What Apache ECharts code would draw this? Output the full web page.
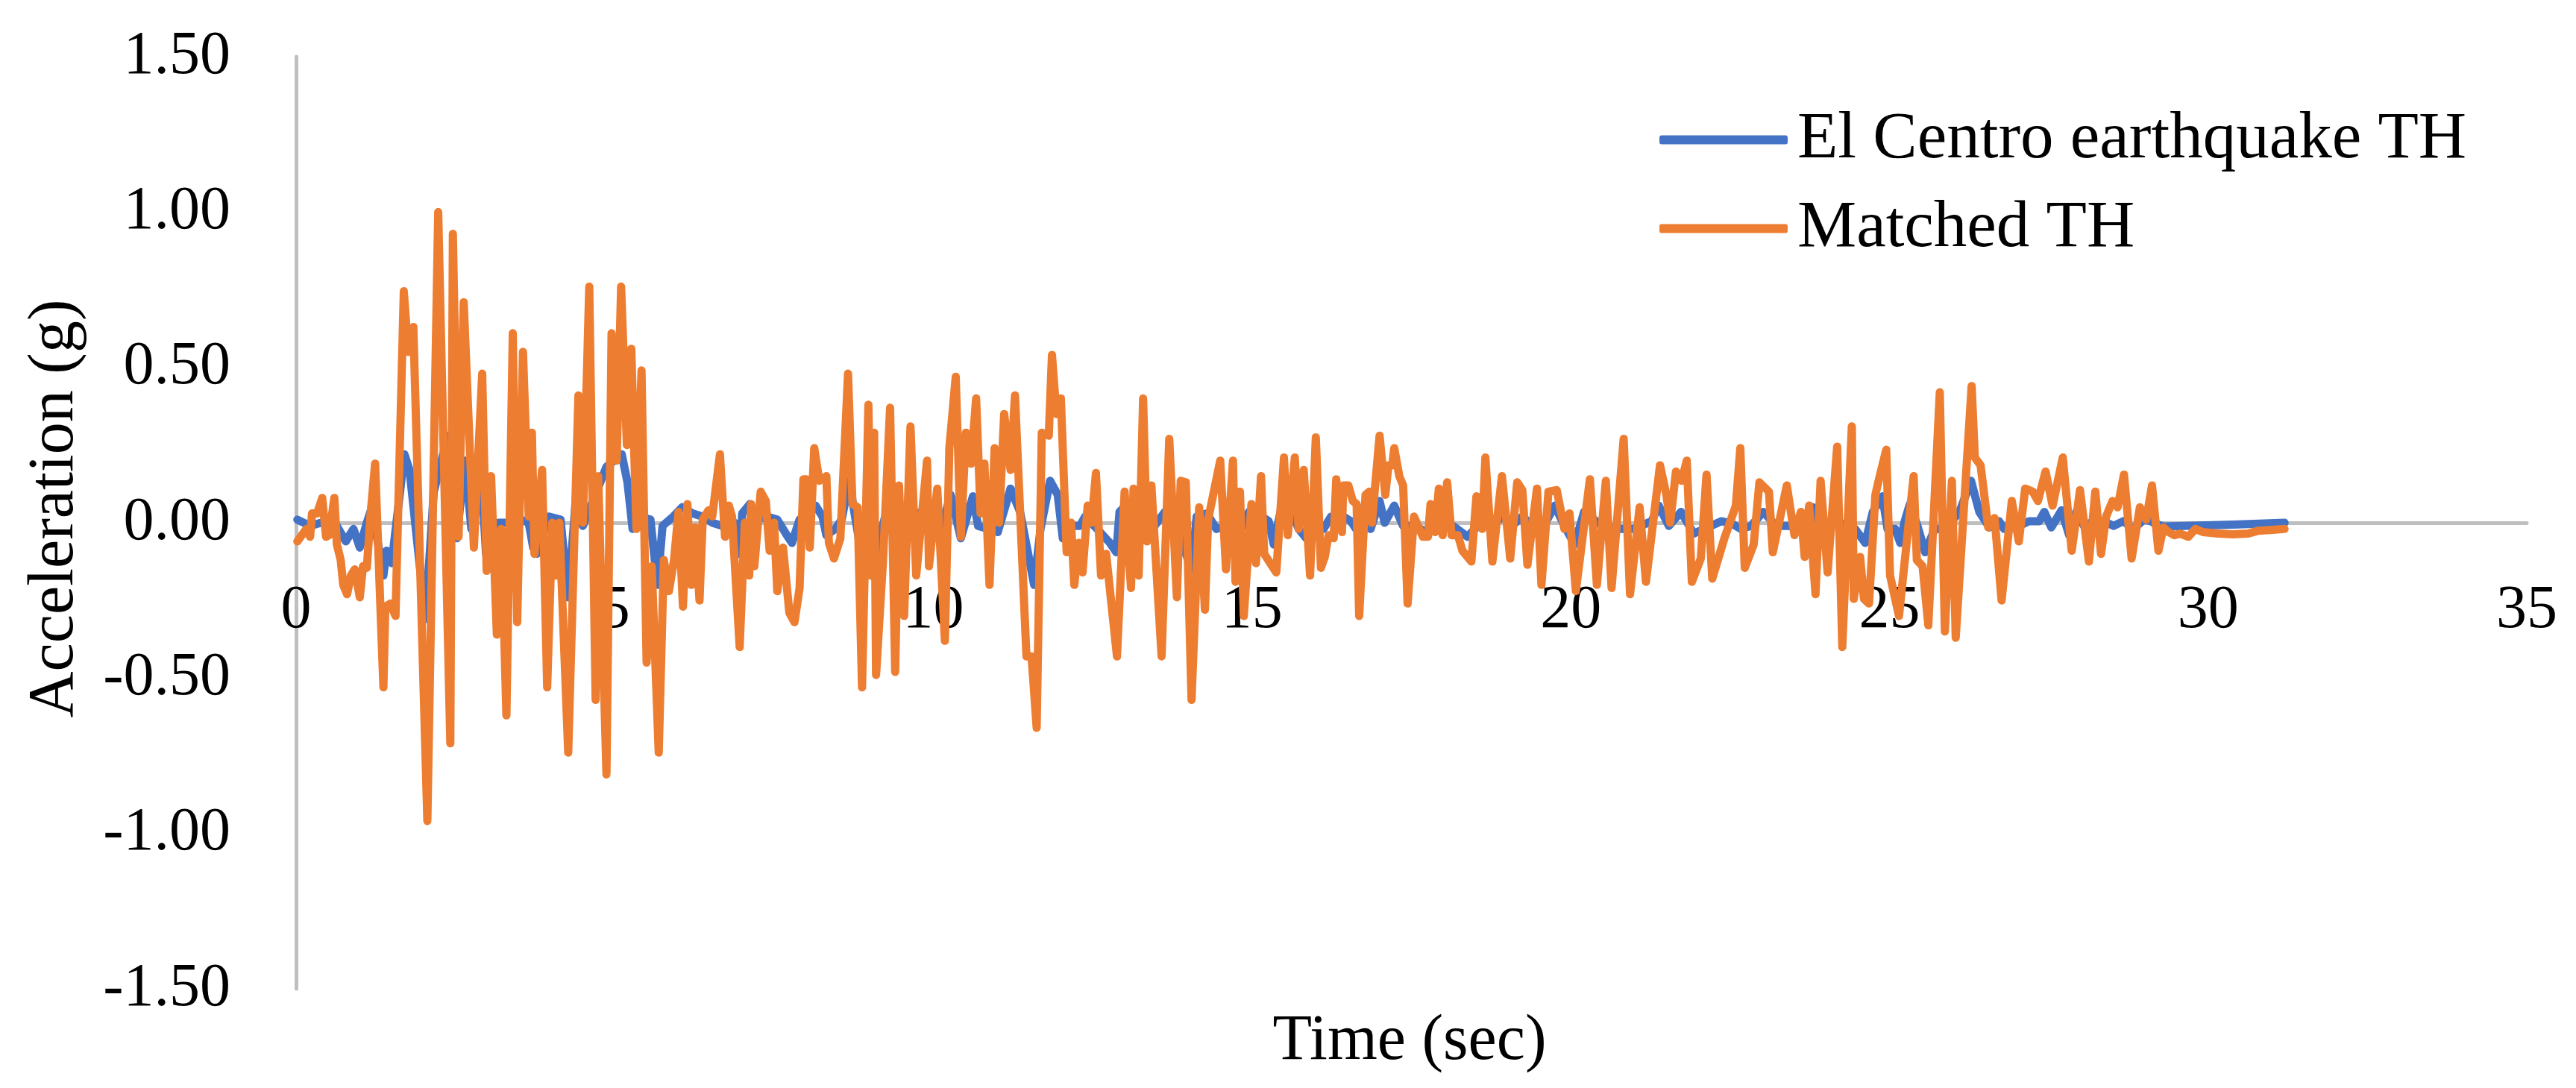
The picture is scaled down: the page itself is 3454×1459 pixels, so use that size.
<!DOCTYPE html>
<html>
<head>
<meta charset="utf-8">
<script src="https://cdn.jsdelivr.net/npm/echarts/dist/echarts.min.js"></script>
<style>
html,body{margin:0;padding:0;background:#ffffff;}
#chart{width:3454px;height:1459px;}
</style>
</head>
<body>
<div id="chart"></div>
<script>
// ---- Data (time in sec, acceleration in g) ----
const seriesNames = ['El Centro earthquake TH', 'Matched TH'];

const matchedT = [
0.02,0.16,0.22,0.25,0.33,0.41,0.47,0.52,0.60,0.64,
0.70,0.74,0.80,0.86,0.92,1.00,1.05,1.11,1.17,1.24,
1.37,1.40,1.48,1.56,1.69,1.76,1.84,2.06,2.23,2.42,
2.46,2.55,2.63,2.79,2.92,2.99,3.06,3.15,3.22,3.30,
3.40,3.47,3.56,3.65,3.70,3.74,3.86,3.94,4.02,4.07,
4.13,4.27,4.43,4.50,4.60,4.70,4.74,4.87,4.95,5.03,
5.10,5.19,5.26,5.34,5.42,5.50,5.58,5.69,5.77,5.85,
5.93,6.00,6.07,6.14,6.20,6.26,6.33,6.38,6.47,6.53,
6.65,6.73,6.79,6.84,6.96,7.04,7.11,7.14,7.19,7.29,
7.37,7.43,7.50,7.55,7.64,7.74,7.82,7.90,7.96,8.01,
8.06,8.13,8.21,8.32,8.36,8.44,8.54,8.66,8.73,8.81,
8.88,8.98,9.02,9.07,9.10,9.21,9.32,9.40,9.46,9.54,
9.64,9.73,9.90,9.93,10.06,10.18,10.25,10.35,10.43,10.51,
10.59,10.67,10.74,10.80,10.88,10.96,11.03,11.11,11.21,11.28,
11.46,11.54,11.62,11.70,11.81,11.86,11.93,12.00,12.09,12.16,
12.21,12.28,12.34,12.42,12.48,12.55,12.63,12.71,12.88,13.00,
13.10,13.14,13.22,13.29,13.35,13.42,13.58,13.70,13.82,13.88,
13.96,14.05,14.17,14.26,14.31,14.50,14.59,14.70,14.74,14.81,
14.87,14.99,15.06,15.14,15.19,15.38,15.50,15.56,15.67,15.73,
15.81,15.91,16.00,16.08,16.14,16.20,16.28,16.32,16.41,16.43,
16.51,16.58,16.64,16.68,16.78,16.84,16.88,17.00,17.09,17.14,
17.20,17.23,17.31,17.37,17.44,17.54,17.68,17.76,17.80,17.87,
17.93,17.99,18.06,18.13,18.23,18.30,18.44,18.52,18.61,18.66,
18.77,18.92,19.05,19.16,19.24,19.32,19.47,19.54,19.65,19.78,
19.90,19.98,20.08,20.30,20.41,20.55,20.64,20.83,20.93,21.08,
21.18,21.40,21.50,21.56,21.65,21.74,21.82,21.90,22.04,22.13,
22.22,22.41,22.59,22.66,22.73,22.87,22.96,23.11,23.17,23.39,
23.51,23.61,23.67,23.74,23.84,23.92,24.03,24.18,24.26,24.41,
24.44,24.54,24.60,24.68,24.78,24.83,24.95,25.01,25.15,25.38,
25.43,25.52,25.61,25.79,25.87,25.98,26.04,26.29,26.34,26.43,
26.55,26.65,26.76,26.92,27.03,27.13,27.25,27.33,27.45,27.56,
27.72,27.86,27.99,28.13,28.23,28.32,28.40,28.50,28.58,28.68,
28.80,28.93,29.03,29.12,29.22,29.30,29.38,29.47,29.56,29.69,
29.80,29.92,30.16,30.39,30.62,30.78,31.01,31.20
];
const matchedV = [
-0.06,-0.02,-0.045,0.03,0.03,0.08,-0.045,-0.04,0.08,-0.07,
-0.12,-0.20,-0.23,-0.17,-0.15,-0.24,-0.14,-0.145,0.03,0.19,
-0.53,-0.27,-0.26,-0.30,0.745,0.55,0.63,-0.96,1.00,-0.71,
0.93,-0.045,0.71,-0.08,0.48,-0.155,0.15,-0.36,-0.02,-0.62,
0.61,-0.32,0.55,0.02,0.29,-0.10,0.17,-0.53,0.0,-0.17,
0.0,-0.74,0.41,0.0,0.76,-0.57,0.15,-0.81,0.61,0.20,
0.76,0.25,0.56,-0.02,0.49,-0.45,-0.14,-0.74,-0.12,-0.22,
-0.12,0.035,-0.27,0.06,-0.20,-0.015,-0.25,0.01,0.04,0.02,
0.22,-0.045,0.055,0.02,-0.40,0.0,-0.17,0.06,-0.14,0.10,
0.07,-0.09,0.0,-0.22,-0.08,-0.29,-0.32,-0.21,0.14,0.14,
-0.08,0.24,0.135,0.15,-0.065,-0.115,-0.05,0.48,0.06,0.05,
-0.53,0.38,-0.17,0.29,-0.49,-0.12,0.37,-0.48,0.12,-0.30,
0.31,-0.17,0.20,-0.14,0.11,-0.38,0.24,0.47,-0.045,0.29,
0.19,0.40,0.03,0.19,-0.20,0.24,0.0,0.35,0.17,0.41,
-0.43,-0.43,-0.66,0.29,0.28,0.54,0.35,0.40,-0.095,0.0,
-0.20,-0.065,-0.16,0.055,0.0,0.16,-0.17,-0.10,-0.43,0.10,
-0.21,0.11,-0.17,0.40,-0.06,0.12,-0.43,0.27,-0.24,0.135,
0.13,-0.57,0.05,-0.28,0.01,0.20,-0.15,0.20,-0.19,0.10,
-0.30,0.06,-0.13,0.15,-0.10,-0.16,0.21,-0.04,0.21,-0.02,
0.17,-0.17,0.275,-0.145,-0.11,-0.04,-0.05,0.14,-0.03,0.12,
0.12,0.07,0.06,-0.30,0.09,0.10,0.0,0.28,0.09,0.185,
0.185,0.24,0.15,0.12,-0.26,0.02,-0.045,-0.045,0.06,-0.03,
0.11,-0.04,0.13,-0.04,-0.04,-0.09,-0.125,0.085,-0.02,0.21,
-0.125,0.15,-0.115,0.13,0.105,-0.135,0.11,-0.20,0.10,0.105,
-0.02,0.03,-0.22,0.14,-0.20,0.135,-0.21,0.27,-0.23,0.05,
-0.19,0.185,0.09,0.0,0.165,0.135,0.20,-0.19,-0.115,0.155,
-0.18,-0.05,0.055,0.24,-0.145,-0.07,0.13,0.10,-0.095,0.12,
-0.04,0.035,-0.11,0.055,-0.23,0.135,-0.16,0.245,-0.40,0.31,
-0.245,-0.11,-0.245,-0.26,0.09,0.135,0.235,-0.17,-0.30,0.15,
-0.12,-0.14,-0.33,0.42,-0.35,0.135,-0.37,0.44,0.21,0.185,
-0.015,0.015,-0.25,0.07,-0.06,0.11,0.10,0.07,0.165,0.055,
0.21,-0.09,0.105,-0.125,0.10,-0.10,0.02,0.07,0.05,0.155,
-0.115,0.05,0.01,0.12,-0.09,-0.015,-0.03,-0.04,-0.035,-0.045,
-0.02,-0.03,-0.035,-0.037,-0.035,-0.026,-0.023,-0.02
];

const elCentroT = [
0.02,0.22,0.39,0.61,0.78,0.90,1.00,1.11,1.19,1.37,
1.42,1.50,1.70,1.78,2.03,2.16,2.38,2.52,2.65,2.75,
2.91,2.98,3.18,3.30,3.53,3.65,3.72,3.78,3.96,4.15,
4.27,4.39,4.50,4.87,5.05,5.11,5.20,5.28,5.40,5.56,
5.67,5.75,5.92,6.06,6.22,6.38,6.53,6.69,6.88,6.96,
7.00,7.12,7.23,7.39,7.55,7.70,7.78,7.90,8.15,8.26,
8.32,8.46,8.56,8.68,8.77,8.87,9.03,9.14,9.26,9.38,
9.49,9.65,9.80,9.96,10.12,10.27,10.43,10.62,10.70,10.86,
11.01,11.21,11.36,11.58,11.68,11.83,11.95,12.03,12.14,12.30,
12.38,12.57,12.77,12.87,12.92,13.04,13.24,13.47,13.63,13.74,
13.90,14.05,14.13,14.29,14.44,14.60,14.83,14.95,15.15,15.26,
15.34,15.46,15.58,15.73,15.85,15.96,16.04,16.12,16.24,16.43,
16.55,16.63,16.75,16.86,17.00,17.08,17.23,17.37,17.52,17.76,
17.91,18.15,18.38,18.54,18.77,18.93,19.08,19.24,19.40,19.55,
19.75,19.90,20.06,20.21,20.49,20.72,20.99,21.27,21.38,21.54,
21.73,21.93,22.20,22.36,22.52,22.67,22.83,23.02,23.22,23.41,
23.61,23.80,23.88,24.07,24.19,24.31,24.46,24.62,24.74,24.89,
24.97,25.09,25.17,25.24,25.32,25.44,25.56,25.71,25.87,26.10,
26.28,26.41,26.57,26.72,26.80,27.04,27.19,27.35,27.43,27.54,
27.70,27.82,27.93,28.05,28.21,28.36,28.52,28.67,28.83,28.99,
29.10,29.16,29.30,30.39,31.20
];
const elCentroV = [
0.01,-0.01,0.0,0.0,-0.06,-0.02,-0.08,0.0,0.05,-0.17,
-0.09,-0.13,0.22,0.17,-0.31,0.10,0.28,-0.05,0.20,-0.02,
0.15,-0.10,0.0,0.0,0.01,0.0,-0.08,-0.10,0.02,0.01,
-0.24,0.08,-0.01,0.18,0.21,0.22,0.13,-0.02,0.02,0.01,
-0.20,-0.01,0.02,0.05,0.03,0.02,0.0,-0.01,0.0,-0.10,
0.03,0.06,0.01,0.02,0.01,-0.04,-0.065,0.01,0.055,0.02,
-0.04,-0.02,0.01,0.135,0.02,-0.10,-0.17,-0.065,0.035,0.09,
0.01,-0.04,0.035,-0.01,-0.02,0.09,-0.05,0.085,-0.01,-0.02,
-0.03,0.11,0.035,-0.20,-0.02,0.135,0.09,-0.05,-0.01,-0.01,
0.02,-0.02,-0.065,-0.095,0.035,0.06,0.035,-0.01,0.035,0.02,
-0.065,-0.15,0.02,0.03,-0.02,-0.01,-0.02,0.035,0.02,0.005,
-0.07,0.05,0.06,-0.02,-0.05,0.0,0.0,-0.02,0.02,0.02,
0.005,-0.02,0.05,-0.02,0.07,0.0,0.055,-0.01,-0.01,-0.03,
-0.01,-0.01,-0.045,-0.01,-0.01,0.02,-0.01,0.02,-0.01,-0.02,
0.055,-0.01,-0.07,0.035,-0.01,-0.02,-0.02,0.005,0.055,-0.01,
0.035,-0.035,-0.01,0.005,-0.002,-0.02,-0.01,0.035,-0.01,-0.01,
-0.015,0.05,0.005,-0.01,0.005,-0.01,-0.02,-0.065,0.035,0.085,
-0.02,-0.02,-0.065,0.005,0.06,-0.01,-0.095,-0.02,-0.02,0.035,
0.135,0.035,-0.015,0.005,-0.02,-0.01,0.005,0.005,0.035,-0.015,
0.04,-0.04,0.035,-0.01,0.005,0.005,-0.01,0.005,-0.02,0.01,
0.005,-0.002,-0.012,-0.006,0.0
];

// Axis ranges / ticks
const xMin = 0, xMax = 35, xStep = 5;
const yMin = -1.5, yMax = 1.5, yStep = 0.5;
const xAxisTitle = 'Time (sec)';
const yAxisTitle = 'Acceleration (g)';

// ---- Build chart ----
function pairs(ts, vs) {
  const n = Math.min(ts.length, vs.length);
  const out = [];
  for (let i = 0; i < n; i++) out.push([ts[i], vs[i]]);
  return out;
}
const FONT = '"Liberation Serif", "DejaVu Serif", serif';
const GRID_TOP = 76, GRID_BOTTOM = 133, H = 1459;
// Move the x axis (line + labels) to the y = 0 position, as in the reference
const plotH = H - GRID_TOP - GRID_BOTTOM;
const zeroFromBottom = plotH * (0 - yMin) / (yMax - yMin);

const chart = echarts.init(document.getElementById('chart'), null, {renderer: 'canvas'});
chart.setOption({
  animation: false,
  backgroundColor: '#ffffff',
  grid: {left: 397, right: 66, top: GRID_TOP, bottom: GRID_BOTTOM, containLabel: false},
  legend: {
    orient: 'vertical',
    left: 2220,
    top: 138,
    itemWidth: 172,
    itemHeight: 12,
    itemGap: 30,
    data: seriesNames.map(n => ({name: n, icon: 'roundRect'})),
    textStyle: {fontFamily: FONT, fontSize: 89, color: '#000000', padding: [0, 0, 0, 8]}
  },
  xAxis: {
    type: 'value', min: xMin, max: xMax, interval: xStep,
    offset: -zeroFromBottom,
    axisLine: {show: true, onZero: false, lineStyle: {color: '#BFBFBF', width: 5}},
    axisTick: {show: false},
    splitLine: {show: false},
    axisLabel: {color: '#000000', fontFamily: FONT, fontSize: 82, margin: 77}
  },
  yAxis: {
    type: 'value', min: yMin, max: yMax, interval: yStep,
    axisLine: {show: true, onZero: false, lineStyle: {color: '#BFBFBF', width: 5}},
    axisTick: {show: false},
    splitLine: {show: false},
    axisLabel: {color: '#000000', fontFamily: FONT, fontSize: 82, margin: 88,
      formatter: v => v.toFixed(2)}
  },
  graphic: [
    {type: 'text', x: 74, y: 682, rotation: Math.PI / 2,
      style: {text: yAxisTitle, fontFamily: FONT, fontSize: 86, fill: '#000000', align: 'center', verticalAlign: 'middle'}},
    {type: 'text', x: 1890, y: 1397,
      style: {text: xAxisTitle, fontFamily: FONT, fontSize: 86, fill: '#000000', align: 'center', verticalAlign: 'middle'}}
  ],
  series: [
    {name: seriesNames[0], type: 'line', data: pairs(elCentroT, elCentroV), symbol: 'none', z: 2,
      itemStyle: {color: '#4472C4'},
      lineStyle: {color: '#4472C4', width: 11, cap: 'round', join: 'round'}},
    {name: seriesNames[1], type: 'line', data: pairs(matchedT, matchedV), symbol: 'none', z: 3,
      itemStyle: {color: '#ED7D31'},
      lineStyle: {color: '#ED7D31', width: 11, cap: 'round', join: 'round'}}
  ]
});
</script>
</body>
</html>
